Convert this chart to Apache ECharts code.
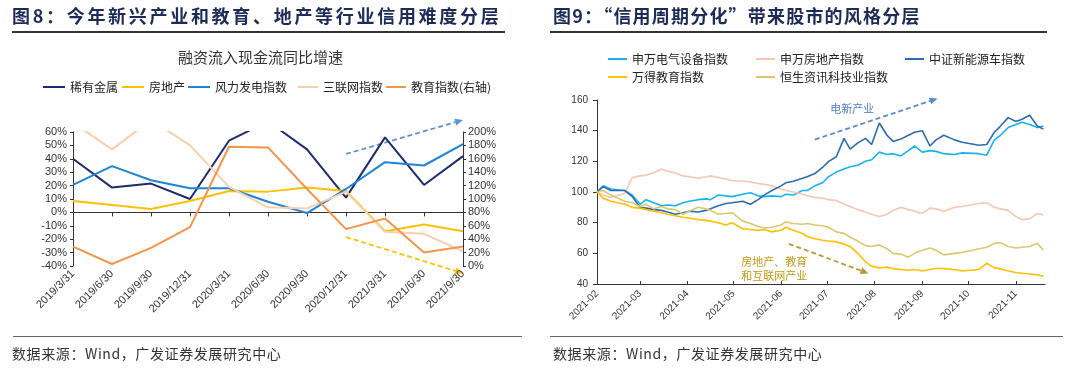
<!DOCTYPE html>
<html>
<head>
<meta charset="utf-8">
<script src="https://cdn.jsdelivr.net/npm/echarts@6/dist/echarts.min.js"></script>
<style>
  body { margin: 0; background: #fff; }
  #page { position: relative; width: 1080px; height: 376px; overflow: hidden; font-family: "Noto Sans CJK SC", sans-serif; }
  #chart { position: absolute; left: 0; top: 0; width: 1080px; height: 376px; }
  .head { position: absolute; top: 3px; font-size: 18px; font-weight: bold; color: #1c2b57; white-space: nowrap; line-height: 24px; }
  .rule { position: absolute; background: #333; }
  .src { position: absolute; top: 343px; font-size: 14px; color: #333; white-space: nowrap; letter-spacing: 0.6px; line-height: 20px; }
</style>
</head>
<body>
<div id="page">
  <div id="chart"></div>
  <div class="head" style="left:12px;letter-spacing:2.7px">图8：今年新兴产业和教育、地产等行业信用难度分层</div>
  <div class="rule" style="left:12px;top:31px;width:493px;height:2px"></div>
  <div class="head" style="left:553px;letter-spacing:1.2px">图9：“信用周期分化”带来股市的风格分层</div>
  <div class="rule" style="left:550px;top:31px;width:497px;height:2px"></div>
  <div class="rule" style="left:13px;top:336px;width:509px;height:1px;background:#666"></div>
  <div class="rule" style="left:550px;top:336px;width:513px;height:1px;background:#666"></div>
  <div class="src" style="left:12px">数据来源：Wind，广发证券发展研究中心</div>
  <div class="src" style="left:553px">数据来源：Wind，广发证券发展研究中心</div>
</div>
<script>
// --- Figure 8: financing cash inflow, YoY growth (%) ---
const quarters = ['2019/3/31', '2019/6/30', '2019/9/30', '2019/12/31', '2020/3/31', '2020/6/30',
  '2020/9/30', '2020/12/31', '2021/3/31', '2021/6/30', '2021/9/30'];
const rareMetal = [40, 18.5, 21.5, 10, 53.5, 68, 47, 11, 56, 20.5, 42];
const realEstate = [8.5, 5.5, 2.5, 8.5, 16, 15.5, 18.5, 16, -14, -9, -14];
const windPower = [20.5, 34.5, 24, 18, 18, 8, -0.5, 17.5, 37.5, 35, 51];
const iot = [67, 47, 69, 50, 19, 3.8, 3, 15.5, -14.5, -16, -29];
const education = [29, 3, 27, 58, 178, 177, 115, 55, 71, 20, 29]; // right axis

// --- Figure 9: index levels (rebased to 100) ---
const dates = ['2021-02-01', '2021-02-05', '2021-02-10', '2021-02-19', '2021-02-24', '2021-03-01',
  '2021-03-05', '2021-03-10', '2021-03-15', '2021-03-19', '2021-03-24', '2021-03-29', '2021-04-02',
  '2021-04-08', '2021-04-13', '2021-04-16', '2021-04-21', '2021-04-26', '2021-04-30', '2021-05-07',
  '2021-05-12', '2021-05-17', '2021-05-21', '2021-05-26', '2021-06-01', '2021-06-04', '2021-06-09',
  '2021-06-15', '2021-06-18', '2021-06-23', '2021-06-28', '2021-07-02', '2021-07-07', '2021-07-12',
  '2021-07-16', '2021-07-21', '2021-07-26', '2021-07-30', '2021-08-04', '2021-08-09', '2021-08-13',
  '2021-08-18', '2021-08-23', '2021-08-27', '2021-09-01', '2021-09-06', '2021-09-10', '2021-09-15',
  '2021-09-22', '2021-09-27', '2021-10-08', '2021-10-13', '2021-10-18', '2021-10-22', '2021-10-27',
  '2021-11-01', '2021-11-05', '2021-11-10', '2021-11-15', '2021-11-19'];
const elecEquip = [100, 104, 102, 101, 98, 92, 95, 93, 91, 91.5,
  91, 93, 94, 95, 95.5, 95, 98, 97.5, 97, 98.5,
  99.5, 97.5, 97, 97.5, 97, 98.5, 98, 101, 101, 104,
  106, 110, 113, 115, 116.5, 117.5, 120, 121, 126, 124.5,
  125, 123.5, 127, 130, 126, 127, 126.5, 125, 124.5, 125.5,
  125, 124, 134, 137, 142, 144, 145.5, 144, 142, 143];
const realEstateIdx = [100, 98, 96.5, 99, 109.5, 110.5, 111, 112.5, 115, 113.5,
  112.5, 110.5, 110, 109, 110, 110.5, 109.5, 108.5, 107.5, 107,
  106.5, 105.5, 105, 104, 102, 101, 100, 98.5, 97.5, 96.5,
  96, 95, 94.5, 92, 90.5, 88.5, 87, 85.5, 84, 85.5,
  88, 90, 88.5, 87.5, 86, 89.5, 89, 87.5, 90, 90.5,
  92.5, 93, 90, 89, 88, 84, 82, 82.5, 86, 85];
const newEnergyCar = [100, 103.5, 101, 101, 97, 90, 89.5, 88.5, 88, 87,
  85.5, 86.5, 87.5, 87, 88, 89, 91, 92.5, 93, 94,
  92, 95, 98, 101, 104, 106, 107, 109, 110, 112,
  116, 120, 123, 135, 128, 132, 135, 131, 145, 137,
  133, 134.5, 137, 139, 140, 130, 134, 137, 134, 132.5,
  130.5, 131, 139, 143, 148.5, 146, 147.5, 150, 143, 141];
const windEducation = [100, 96, 94, 92, 90, 89.5, 88.5, 87.5, 86.5, 85.5,
  84.5, 83.5, 83, 82, 81.5, 81, 80, 78.5, 80, 76,
  75.5, 75, 75.5, 74, 75, 77, 75, 73, 71, 69.5,
  68.5, 68, 67.5, 66, 64.5, 60, 54.5, 51.5, 50.5, 51,
  50, 49.5, 49, 49.5, 48.5, 49.5, 50.3, 50, 49.5, 48.5,
  49.5, 53.5, 50.5, 50, 48.5, 47.5, 47, 46.5, 46, 45];
const hsTech = [100, 101, 98, 94, 93, 90.5, 92, 89, 90.5, 89,
  88.5, 85.5, 87.5, 90, 89, 88, 85.5, 86, 86.5, 81,
  79.5, 77.5, 76.5, 77, 78.5, 80.5, 79.5, 79, 79.5, 78.5,
  78, 77, 74, 73, 70.5, 68, 65, 64.5, 65.5, 63,
  60, 59.5, 57.5, 60, 62, 63.5, 62, 59, 60, 60.5,
  63, 64, 66.5, 67, 64.5, 63.5, 64, 64.5, 66.5, 62];

const CN = '"Noto Sans CJK SC", sans-serif';
const NUM = '"Liberation Sans", Arial, sans-serif';

// Une légende par item, pour coller aux colonnes de l'original
function legendItem(name, left, top, itemWidth) {
  return {
    data: [name], left: left, top: top, itemWidth: itemWidth, itemHeight: 2,
    icon: 'rect', padding: 0, itemGap: 0, selectedMode: false,
    textStyle: { fontSize: 12, color: '#222', fontFamily: CN }
  };
}

function lineSeries(name, data, color, xi, yi, width) {
  return {
    name: name, type: 'line', data: data, xAxisIndex: xi, yAxisIndex: yi,
    symbol: 'none', smooth: false, clip: true,
    lineStyle: { color: color, width: width }, itemStyle: { color: color },
    emphasis: { disabled: true }
  };
}

function zipDates(values) {
  return dates.map((d, i) => [d, values[i]]);
}

const axisLineStyle = { color: '#333', width: 1 };
const numLabel = { color: '#333', fontFamily: NUM };

const option = {
  animation: false,
  title: [{
    text: '融资流入现金流同比增速', left: 173, top: 45,
    textStyle: { fontSize: 15, fontWeight: 'normal', color: '#333', fontFamily: CN }
  }],
  legend: [
    legendItem('稀有金属', 43, 81, 22),
    legendItem('房地产', 122, 81, 22),
    legendItem('风力发电指数', 188, 81, 22),
    legendItem('三联网指数', 298, 81, 20),
    legendItem('教育指数(右轴)', 386, 81, 20),
    legendItem('申万电气设备指数', 608, 53, 19),
    legendItem('申万房地产指数', 756, 53, 19),
    legendItem('中证新能源车指数', 905, 53, 19),
    legendItem('万得教育指数', 608, 71, 19),
    legendItem('恒生资讯科技业指数', 756, 71, 19)
  ],
  grid: [
    { left: 73, top: 132, width: 390, height: 134 },
    { left: 597, top: 100, width: 448, height: 184 }
  ],
  xAxis: [
    { // labels at the bottom of the plot
      gridIndex: 0, type: 'category', data: quarters, boundaryGap: false, position: 'bottom',
      axisLine: { show: false, onZero: false }, axisTick: { show: false },
      axisLabel: Object.assign({ rotate: 45, fontSize: 11, margin: 6, interval: 0 }, numLabel),
      splitLine: { show: false }
    },
    { // axis line on 0%
      gridIndex: 0, type: 'category', data: quarters, boundaryGap: false, position: 'bottom',
      axisLine: { show: true, onZero: true, onZeroAxisIndex: 0, lineStyle: { color: '#333', width: 1.2 } },
      axisTick: { show: true, length: 4, interval: 0, lineStyle: axisLineStyle },
      axisLabel: { show: false }, splitLine: { show: false }
    },
    {
      gridIndex: 1, type: 'time', min: '2021-02-01', max: '2021-11-20', splitNumber: 10,
      minInterval: 28 * 86400000,
      axisLine: { show: true, onZero: false, lineStyle: axisLineStyle },
      axisTick: { show: true, inside: true, length: 3, lineStyle: axisLineStyle },
      axisLabel: Object.assign({ rotate: 45, fontSize: 10, margin: 8, formatter: '{yyyy}-{MM}', hideOverlap: false }, numLabel),
      splitLine: { show: false }
    }
  ],
  yAxis: [
    {
      gridIndex: 0, type: 'value', min: -40, max: 60, interval: 10, position: 'left',
      axisLine: { show: true, onZero: false, lineStyle: axisLineStyle },
      axisTick: { show: true, length: 3, lineStyle: axisLineStyle },
      axisLabel: Object.assign({ fontSize: 11, margin: 6, formatter: '{value}%' }, numLabel),
      splitLine: { show: false }
    },
    {
      gridIndex: 0, type: 'value', min: 0, max: 200, interval: 20, position: 'right',
      axisLine: { show: true, onZero: false, lineStyle: axisLineStyle },
      axisTick: { show: true, length: 3, lineStyle: axisLineStyle },
      axisLabel: Object.assign({ fontSize: 11, margin: 5, formatter: '{value}%' }, numLabel),
      splitLine: { show: false }
    },
    {
      gridIndex: 1, type: 'value', min: 40, max: 160, interval: 20,
      axisLine: { show: true, onZero: false, lineStyle: axisLineStyle },
      axisTick: { show: true, length: 4, lineStyle: axisLineStyle },
      axisLabel: Object.assign({ fontSize: 10, margin: 9 }, numLabel),
      splitLine: { show: false }
    }
  ],
  series: [
    lineSeries('稀有金属', rareMetal, '#1f2b6e', 0, 0, 2),
    lineSeries('房地产', realEstate, '#ffc000', 0, 0, 2),
    lineSeries('风力发电指数', windPower, '#1f83d6', 0, 0, 2),
    lineSeries('三联网指数', iot, '#f9cfad', 0, 0, 2),
    lineSeries('教育指数(右轴)', education, '#f6944a', 0, 1, 2),
    lineSeries('申万电气设备指数', zipDates(elecEquip), '#19b2ee', 2, 2, 1.6),
    lineSeries('申万房地产指数', zipDates(realEstateIdx), '#f4c8b2', 2, 2, 1.6),
    lineSeries('中证新能源车指数', zipDates(newEnergyCar), '#2b6cb2', 2, 2, 1.6),
    lineSeries('万得教育指数', zipDates(windEducation), '#ffc000', 2, 2, 1.6),
    lineSeries('恒生资讯科技业指数', zipDates(hsTech), '#dac96c', 2, 2, 1.6)
  ]
};

const chart = echarts.init(document.getElementById('chart'), null, { renderer: 'canvas' });
chart.setOption(option);

// --- Annotations: dashed arrows and captions, anchored in data space ---
function toPx(finder, point) {
  return chart.convertToPixel(finder, point);
}

function arrow(p0, p1, color) {
  const dx = p1[0] - p0[0], dy = p1[1] - p0[1];
  const len = Math.hypot(dx, dy);
  const ux = dx / len, uy = dy / len;
  const head = 8, half = 3.5;
  const bx = p1[0] - ux * head, by = p1[1] - uy * head;
  return [
    { type: 'line', silent: true, shape: { x1: p0[0], y1: p0[1], x2: bx, y2: by },
      style: { stroke: color, lineWidth: 1.8, lineDash: [5, 3] } },
    { type: 'polygon', silent: true,
      shape: { points: [[p1[0], p1[1]], [bx - uy * half, by + ux * half], [bx + uy * half, by - ux * half]] },
      style: { fill: color } }
  ];
}

function caption(p, text, color) {
  return { type: 'text', silent: true, x: p[0], y: p[1],
    style: { text: text, fill: color, fontSize: 11, fontFamily: CN, verticalAlign: 'middle' } };
}

const left = { xAxisIndex: 0, yAxisIndex: 0 };
const right = { xAxisIndex: 2, yAxisIndex: 2 };

const graphics = [].concat(
  arrow(toPx(left, [7.07, 43.6]), toPx(left, [10.0, 69]), '#5b93d3'),
  arrow(toPx(left, [7.02, -18.4]), toPx(left, [9.73, -45.4]), '#ffc000'),
  arrow(toPx(right, ['2021-06-23', 134.2]), toPx(right, ['2021-09-11', 161]), '#5b8bc8'),
  arrow(toPx(right, ['2021-06-06', 66.2]), toPx(right, ['2021-07-28', 46.9]), '#b9973a'),
  [
    caption(toPx(right, ['2021-07-03', 154]), '电新产业', '#4f7fbf'),
    caption(toPx(right, ['2021-05-06', 54.4]), '房地产、教育', '#c49a12'),
    caption(toPx(right, ['2021-05-06', 45.4]), '和互联网产业', '#c49a12')
  ]
);

chart.setOption({ graphic: graphics });
</script>
</body>
</html>
